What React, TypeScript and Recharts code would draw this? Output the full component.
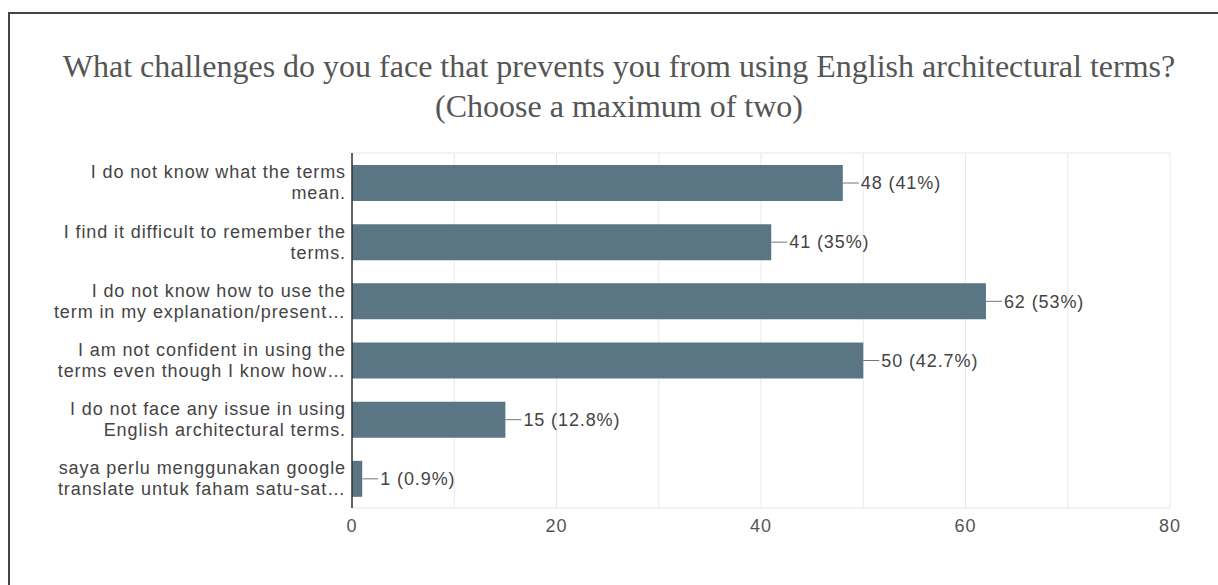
import { BarChart, Bar, XAxis, YAxis, CartesianGrid, LabelList } from "recharts";

const categories = [
  "I do not know what the terms\nmean.",
  "I find it difficult to remember the\nterms.",
  "I do not know how to use the\nterm in my explanation/present…",
  "I am not confident in using the\nterms even though I know how…",
  "I do not face any issue in using\nEnglish architectural terms.",
  "saya perlu menggunakan google\ntranslate untuk faham satu-sat…",
];
const counts = [48, 41, 62, 50, 15, 1];
const percents = ["41%", "35%", "53%", "42.7%", "12.8%", "0.9%"];
const xTicks = [0, 10, 20, 30, 40, 50, 60, 70, 80];

const data = categories.map((name, i) => ({
  name,
  value: counts[i],
  label: `${counts[i]} (${percents[i]})`,
}));

const FONT = "'Liberation Sans', Arial, sans-serif";
const FS = 18;
const LS = 0.9;

function CategoryTick({ x, y, payload }: any) {
  const lines = String(payload.value).split("\n");
  const lh = 21;
  const start = y - ((lines.length - 1) * lh) / 2;
  const tx = x + 2;
  return (
    <text x={tx} y={start} textAnchor="end" fill="#444" fontSize={FS} letterSpacing={LS} fontFamily={FONT}>
      {lines.map((l: string, i: number) => (
        <tspan key={i} x={tx} y={start + i * lh} dy="0.35em">
          {l}
        </tspan>
      ))}
    </text>
  );
}

function ValueTick({ x, y, payload }: any) {
  if (payload.value % 20 !== 0) return null;
  return (
    <text x={x} y={y + 16} textAnchor="middle" fill="#555" fontSize={FS} letterSpacing={LS} fontFamily={FONT}>
      {payload.value}
    </text>
  );
}

function BarLabel(props: any) {
  const { x, y, width, height, index } = props;
  const end = x + width;
  const cy = y + height / 2;
  return (
    <g>
      <line x1={end} x2={end + 16} y1={cy} y2={cy} stroke="#777" strokeWidth={1} />
      <text x={end + 18} y={cy} dy="0.35em" fill="#444" fontSize={FS} letterSpacing={LS} fontFamily={FONT}>
        {data[index].label}
      </text>
    </g>
  );
}

export default function App() {
  return (
    <div style={{ position: "absolute", left: 0, top: 0, width: 1218, height: 585, background: "#fff" }}>
      <div
        style={{
          position: "absolute",
          left: 8,
          top: 12,
          width: 1210,
          height: 573,
          borderLeft: "2px solid #444",
          borderTop: "2px solid #444",
        }}
      />
      <div
        style={{
          position: "absolute",
          left: 0,
          width: 1238,
          top: 46,
          textAlign: "center",
          fontFamily: "'Liberation Serif', 'Times New Roman', serif",
          fontSize: 32,
          lineHeight: "40px",
          color: "#555",
          whiteSpace: "nowrap",
        }}
      >
        What challenges do you face that prevents you from using English architectural terms?
        <br />
        (Choose a maximum of two)
      </div>
      <div style={{ position: "absolute", left: 0, top: 0 }}>
        <BarChart
          width={1218}
          height={585}
          data={data}
          layout="vertical"
          barSize={36}
          margin={{ top: 153, right: 48, bottom: 47, left: 10 }}
        >
          <CartesianGrid
            stroke="#e8e8e8"
            horizontalCoordinatesGenerator={({ offset }: any) => [offset.top, offset.top + offset.height]}
          />
          <XAxis
            type="number"
            domain={[0, 80]}
            ticks={xTicks}
            interval={0}
            axisLine={false}
            tickLine={false}
            height={30}
            tick={<ValueTick />}
          />
          <YAxis
            type="category"
            dataKey="name"
            width={342}
            axisLine={{ stroke: "#333", strokeWidth: 1.5 }}
            tickLine={false}
            interval={0}
            tick={<CategoryTick />}
          />
          <Bar dataKey="value" fill="#5a7684" isAnimationActive={false}>
            <LabelList dataKey="value" content={<BarLabel />} />
          </Bar>
        </BarChart>
      </div>
    </div>
  );
}
